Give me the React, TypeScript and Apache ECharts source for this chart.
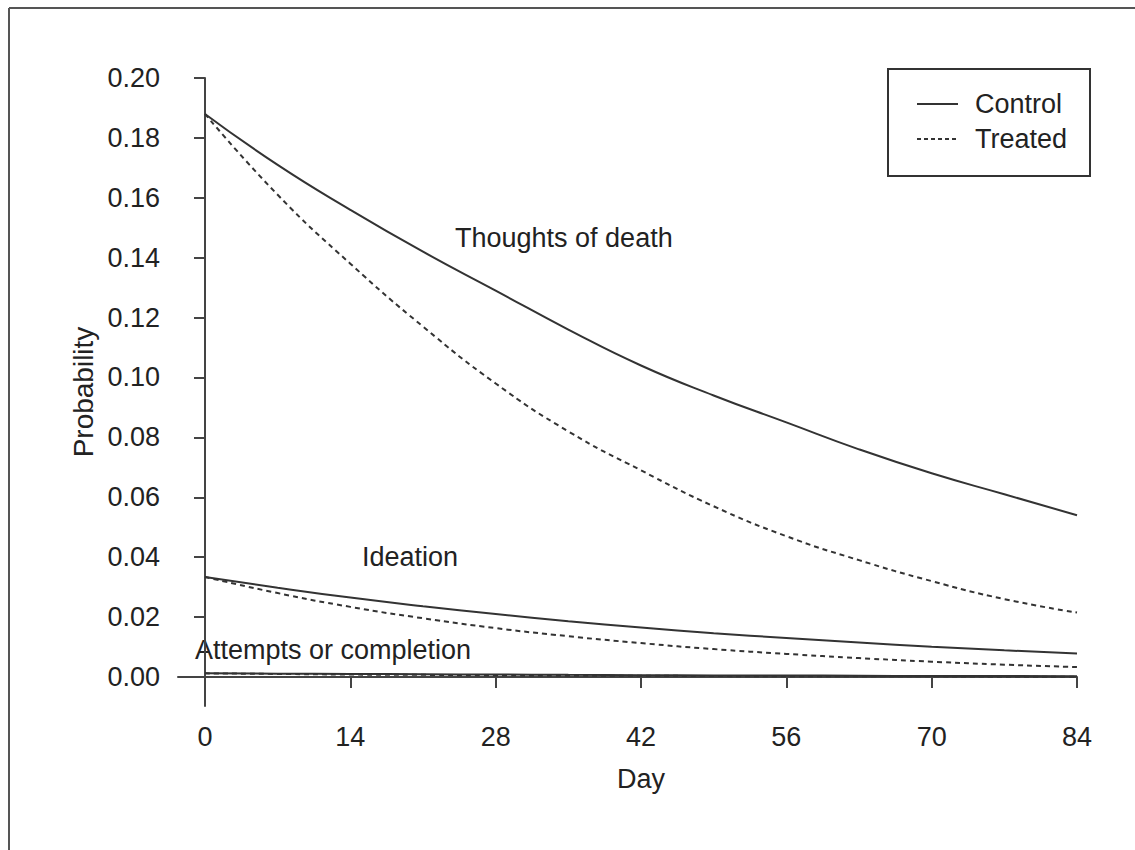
import React, { useEffect, useRef } from "react";
import * as echarts from "echarts";

const days = [0, 7, 14, 21, 28, 35, 42, 49, 56, 63, 70, 77, 84];
const thoughtsControl = [0.188, 0.171, 0.156, 0.142, 0.129, 0.116, 0.104, 0.094, 0.085, 0.076, 0.068, 0.061, 0.054];
const thoughtsTreated = [0.188, 0.161, 0.138, 0.117, 0.098, 0.082, 0.069, 0.057, 0.047, 0.039, 0.032, 0.026, 0.0215];
const ideationControl = [0.0334, 0.0298, 0.0265, 0.0236, 0.021, 0.0186, 0.0165, 0.0146, 0.013, 0.0115, 0.0101, 0.0089, 0.0078];
const ideationTreated = [0.0334, 0.028, 0.0234, 0.0196, 0.0163, 0.0136, 0.0113, 0.0093, 0.0077, 0.0063, 0.0051, 0.0041, 0.0033];
const attemptsControl = [0.0012, 0.0011, 0.001, 0.0009, 0.0008, 0.0007, 0.0006, 0.0005, 0.0005, 0.0004, 0.0003, 0.0003, 0.0002];
const attemptsTreated = [0.0012, 0.001, 0.0008, 0.0007, 0.0005, 0.0004, 0.0004, 0.0003, 0.0002, 0.0002, 0.0002, 0.0001, 0.0001];

const xTicks = [0, 14, 28, 42, 56, 70, 84];
const yTicks = [0, 0.02, 0.04, 0.06, 0.08, 0.1, 0.12, 0.14, 0.16, 0.18, 0.2];

const FONT = '"Liberation Sans", Arial, Helvetica, sans-serif';
const TXT = "#222";
const LINE = "#333";

const pairs = (vals: number[]) => days.map((d, i) => [d, vals[i]]);

export default function App() {
  const ref = useRef<HTMLDivElement>(null);
  useEffect(() => {
    if (!ref.current) return;
    const chart = echarts.init(ref.current, null, { renderer: "svg" });
    const mk = (name: string, vals: number[], dashed: boolean) => ({
      name,
      type: "line",
      data: pairs(vals),
      smooth: 0.5,
      showSymbol: false,
      symbol: "none",
      lineStyle: { color: LINE, width: 2, type: dashed ? [5, 4] : "solid" },
      z: 3,
    });
    const txt = (text: string, x: number, y: number, size = 27, align = "left") => ({
      type: "text",
      x,
      y,
      style: { text, font: `${size}px ${FONT}`, fill: TXT, textAlign: align, textVerticalAlign: "middle" },
    });
    chart.setOption({
      animation: false,
      backgroundColor: "#fff",
      grid: { left: 178, right: 58, top: 78, bottom: 144, containLabel: false },
      xAxis: {
        type: "value",
        min: -2.6,
        max: 84,
        axisLine: { show: true, lineStyle: { color: "#444", width: 2 } },
        axisTick: { show: true, customValues: xTicks, length: 11, lineStyle: { color: "#444", width: 2 } },
        axisLabel: {
          customValues: xTicks,
          margin: 17,
          fontFamily: FONT,
          fontSize: 27,
          color: TXT,
          formatter: (v: number) => String(v),
        },
        splitLine: { show: false },
      },
      yAxis: {
        type: "value",
        min: -0.0097,
        max: 0.2,
        axisLine: { show: true, lineStyle: { color: "#444", width: 2 } },
        axisTick: { show: true, customValues: yTicks, length: 11, lineStyle: { color: "#444", width: 2 } },
        axisLabel: {
          customValues: yTicks,
          margin: 18,
          fontFamily: FONT,
          fontSize: 27,
          color: TXT,
          formatter: (v: number) => v.toFixed(2),
        },
        splitLine: { show: false },
      },
      series: [
        mk("Thoughts of death – Control", thoughtsControl, false),
        mk("Thoughts of death – Treated", thoughtsTreated, true),
        mk("Ideation – Control", ideationControl, false),
        mk("Ideation – Treated", ideationTreated, true),
        mk("Attempts or completion – Control", attemptsControl, false),
        mk("Attempts or completion – Treated", attemptsTreated, true),
      ],
      graphic: [
        { type: "line", shape: { x1: 9, y1: 8, x2: 1135, y2: 8 }, style: { stroke: "#555", lineWidth: 2 } },
        { type: "line", shape: { x1: 9, y1: 8, x2: 9, y2: 850 }, style: { stroke: "#555", lineWidth: 2 } },
        { type: "rect", shape: { x: 888, y: 69, width: 202, height: 107 }, style: { fill: "#fff", stroke: "#333", lineWidth: 2 } },
        { type: "line", shape: { x1: 917, y1: 104, x2: 958, y2: 104 }, style: { stroke: LINE, lineWidth: 2 } },
        { type: "line", shape: { x1: 917, y1: 139, x2: 958, y2: 139 }, style: { stroke: LINE, lineWidth: 2, lineDash: [4, 3] } },
        txt("Control", 975, 104),
        txt("Treated", 975, 139),
        txt("Thoughts of death", 455, 238),
        txt("Ideation", 362, 557),
        txt("Attempts or completion", 195, 650),
        txt("Day", 641, 779, 27, "center"),
        { ...txt("Probability", 83, 392, 28, "center"), rotation: Math.PI / 2 },
      ],
    });
    return () => chart.dispose();
  }, []);
  return <div ref={ref} style={{ position: "absolute", left: 0, top: 0, width: 1135, height: 850 }} />;
}
